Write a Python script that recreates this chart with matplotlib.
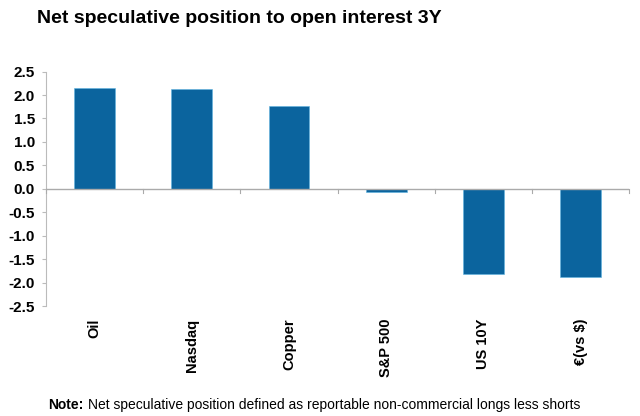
import matplotlib
matplotlib.use("Agg")
import matplotlib.pyplot as plt

categories = ["Oil", "Nasdaq", "Copper", "S&P 500", "US 10Y", "€(vs $)"]
values = [2.15, 2.12, 1.77, -0.07, -1.81, -1.88]
yticks = [2.5, 2.0, 1.5, 1.0, 0.5, 0.0, -0.5, -1.0, -1.5, -2.0, -2.5]

plt.rcParams['font.family'] = ['Liberation Sans', 'DejaVu Sans']

fig = plt.figure(figsize=(6.4, 4.16), dpi=100)
ax = fig.add_axes([0.072, 0.264, 0.911, 0.564])

x = list(range(len(categories)))
ax.bar(x, values, width=0.42, color="#0b649e", edgecolor="#5fb4e0", linewidth=0.4, zorder=2)

ax.set_xlim(-0.5, len(categories) - 0.5)
ax.set_ylim(-2.5, 2.5)
ax.set_yticks(yticks)
ax.set_yticklabels([f"{v:.1f}" for v in yticks], fontsize=11, fontweight="bold")
ax.tick_params(axis="y", length=3, color="#bbbbbb", pad=5, width=0.8)

for s in ["top", "right", "bottom"]:
    ax.spines[s].set_visible(False)
ax.spines["left"].set_color("#bbbbbb")
ax.spines["left"].set_linewidth(0.8)

ax.axhline(0, color="#aaaaaa", linewidth=1.0, zorder=3)
ax.set_xticks([])
for i in range(len(categories) + 1):
    ax.plot([i - 0.5, i - 0.5], [0, -0.08], color="#aaaaaa", linewidth=0.8, zorder=3, clip_on=False)

for i, c in enumerate(categories):
    ax.annotate(c, xy=(i, -2.5), xycoords="data", xytext=(0, -9), textcoords="offset points",
                rotation=90, ha="center", va="top", fontsize=10.5, fontweight="bold")

fig.text(0.058, 0.955, "Net speculative position to open interest 3Y", fontsize=14,
         fontweight="bold", ha="left", va="center")

fig.text(0.075, 0.027, "Note:", fontsize=10, fontweight="bold", ha="left", va="center")
fig.text(0.137, 0.027, "Net speculative position defined as reportable non-commercial longs less shorts",
         fontsize=10, ha="left", va="center")

fig.savefig("out.png", dpi=100)
